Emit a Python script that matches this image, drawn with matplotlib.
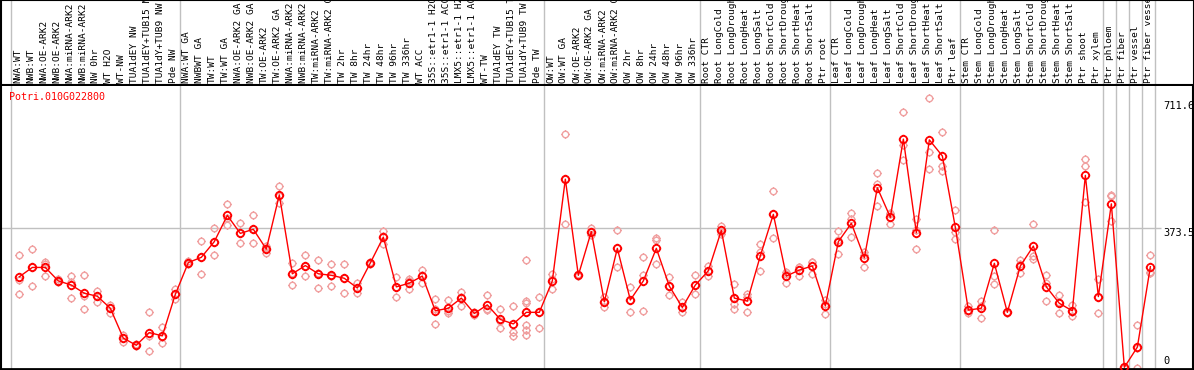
import matplotlib
matplotlib.use("Agg")
import matplotlib.pyplot as plt
from matplotlib.path import Path

gene = "Potri.010G022800"

labels = [
    "NWA:WT", "NWB:WT", "NWA:OE-ARK2", "NWB:OE-ARK2", "NWA:miRNA-ARK2", "NWB:miRNA-ARK2",
    "NW 0hr", "WT H2O", "WT-NW", "TUA1dEY NW", "TUA1dEY+TUB15 NW", "TUA1dY+TUB9 NW", "Pde NW",
    "NWA:WT GA", "NWBWT GA", "TW:WT", "TW:WT GA", "NWA:OE-ARK2 GA", "NWB:OE-ARK2 GA",
    "TW:OE-ARK2", "TW:OE-ARK2 GA", "NWA:miRNA-ARK2 GA", "NWB:miRNA-ARK2 GA", "TW:miRNA-ARK2",
    "TW:miRNA-ARK2 GA", "TW 2hr", "TW 8hr", "TW 24hr", "TW 48hr", "TW 96hr", "TW 336hr", "WT ACC",
    "35S::etr1-1 H2O", "35S::etr1-1 ACC", "LMX5::etr1-1 H2O", "LMX5::etr1-1 ACC", "WT-TW",
    "TUA1dEY TW", "TUA1dEY+TUB15 TW", "TUA1dY+TUB9 TW", "Pde TW",
    "OW:WT", "OW:WT GA", "OW:OE-ARK2", "OW:OE-ARK2 GA", "OW:miRNA-ARK2", "OW:miRNA-ARK2 GA",
    "OW 2hr", "OW 8hr", "OW 24hr", "OW 48hr", "OW 96hr", "OW 336hr",
    "Root CTR", "Root LongCold", "Root LongDrought", "Root LongHeat", "Root LongSalt",
    "Root ShortCold", "Root ShortDrought", "Root ShortHeat", "Root ShortSalt", "Ptr root",
    "Leaf CTR", "Leaf LongCold", "Leaf LongDrought", "Leaf LongHeat", "Leaf LongSalt",
    "Leaf ShortCold", "Leaf ShortDrought", "Leaf ShortHeat", "Leaf ShortSalt", "Ptr leaf",
    "Stem CTR", "Stem LongCold", "Stem LongDrought", "Stem LongHeat", "Stem LongSalt",
    "Stem ShortCold", "Stem ShortDrought", "Stem ShortHeat", "Stem ShortSalt", "Ptr shoot", "Ptr xylem",
    "Ptr phloem", "Ptr fiber", "Ptr vessel", "Ptr fiber vessel",
]

# first column of each sample group
group_starts = [0, 13, 41, 53, 63, 73, 84, 85, 86, 87, 88]

means = [
    243, 268, 268, 232, 221, 199, 191, 159, 79, 60, 94, 85, 196,
    281, 295, 337, 407, 359, 370, 317, 462, 251, 273, 251, 247, 239, 213, 280, 349,
    216, 226, 245, 152, 159, 186, 145, 168, 129, 117, 148, 148,
    232, 504, 247, 364, 176, 319, 181, 232, 319, 218, 161, 221,
    259, 367, 186, 178, 299, 410, 245, 261, 272, 165,
    337, 386, 294, 481, 402, 611, 361, 609, 566, 375,
    154, 159, 279, 148, 272, 325, 216, 172, 152, 514, 190,
    438, 1, 55, 270,
]

replicates = [
    [301, 234, 197], [317, 268, 218], [282, 277, 245], [228, 232, 236], [245, 230, 186],
    [248, 192, 157], [206, 192, 175], [168, 159, 145], [87, 80, 70], [62, 58, 60],
    [149, 85, 44], [108, 82, 65], [210, 196, 183],
    [284, 281, 278], [339, 295, 251], [373, 337, 301], [438, 401, 382], [386, 359, 333],
    [407, 370, 333], [324, 321, 306], [485, 460, 441], [281, 252, 220], [301, 272, 246],
    [288, 253, 212], [277, 246, 218], [277, 241, 199], [227, 213, 199], [283, 280, 277],
    [366, 351, 330], [243, 217, 188], [237, 231, 210], [261, 248, 226], [183, 157, 116],
    [181, 151, 145], [203, 190, 165], [148, 145, 142], [193, 157, 154], [157, 125, 105],
    [165, 96, 85], [288, 179, 172, 148, 114, 101, 87], [188, 150, 105],
    [250, 236, 210], [624, 505, 383], [250, 247, 244], [374, 364, 355], [188, 177, 163],
    [368, 321, 268], [215, 180, 148], [295, 248, 152], [346, 340, 277], [242, 218, 194],
    [176, 159, 148], [247, 220, 196],
    [273, 258, 246], [380, 364, 358], [224, 186, 170, 157], [197, 190, 148], [331, 308, 259],
    [472, 412, 346], [257, 251, 227], [270, 268, 245], [283, 283, 250], [181, 171, 143],
    [366, 341, 304], [413, 397, 349], [310, 302, 270], [520, 491, 433], [413, 410, 383],
    [683, 596, 554], [397, 369, 317], [720, 576, 531], [630, 539, 527], [422, 364, 344],
    [165, 152, 145], [179, 164, 134], [368, 245, 223], [150, 148, 146], [288, 276, 252],
    [383, 299, 290], [247, 226, 178], [194, 175, 147], [168, 150, 138], [558, 539, 442],
    [237, 188, 145],
    [460, 461, 393], [0, 1, 2], [113, 52, 0], [301, 257, 254],
]

y_ticks = [711.6, 373.5, 0]

# circle marker with four small stubs
stub_verts = [(0, 1), (0, 1.3), (0, -1), (0, -1.3), (1, 0), (1.3, 0), (-1, 0), (-1.3, 0)]
stub_codes = [Path.MOVETO, Path.LINETO] * 4
marker = Path.make_compound_path(Path.unit_circle(), Path(stub_verts, stub_codes))

RED = "#ff0000"
PINK = "#f0a0a0"
GRID = "#c0c0c0"

fig = plt.figure(figsize=(11.94, 3.7), dpi=100)
left, width = 1 / 1194, 1192 / 1194
ax_lab = fig.add_axes([left, 1 - 85 / 370, width, 85 / 370])
ax = fig.add_axes([left, 1 / 370, width, 283 / 370])

xlim = (-1.408, 90.28)
for a in (ax, ax_lab):
    a.set_xlim(*xlim)
    a.set_xticks([])
    a.set_yticks([])
    for s in a.spines.values():
        s.set_color("black")
    for b in group_starts:
        a.axvline(b - 0.64, color=GRID, lw=1, zorder=0)

# sample names, clipped at the top like the original
ax_lab.set_ylim(0, 1)
ax_lab.spines["bottom"].set_linewidth(1.5)
ax_lab.spines["left"].set_linewidth(1.5)
trans = ax_lab.get_xaxis_transform()
for i, lab in enumerate(labels):
    ax_lab.text(i - 0.12, 0.025, lab, rotation=90, ha="center", va="bottom",
                fontsize=6.8, family="DejaVu Sans Mono", transform=trans, clip_on=True)

ax.set_ylim(-3.5, 753)
ax.spines["top"].set_visible(False)
ax.spines["bottom"].set_linewidth(2)
ax.spines["left"].set_linewidth(1.5)
ax.spines["right"].set_linewidth(1.5)

x_end = 88.0
ax.hlines(y_ticks[1], xlim[0], x_end - 0.2, color=GRID, lw=1, zorder=0)

for i, reps in enumerate(replicates):
    ax.plot([i] * len(reps), reps, linestyle="none", marker=marker, markersize=6.0,
            markerfacecolor="none", markeredgecolor=PINK, markeredgewidth=1, zorder=2)

x = list(range(len(means)))
ax.plot(x, means, color=RED, lw=1, zorder=3)
ax.plot(x, means, linestyle="none", marker=marker, markersize=6.8,
        markerfacecolor="none", markeredgecolor=RED, markeredgewidth=1.3, zorder=4)

ax.text(x_end, y_ticks[0], "711.6", ha="left", va="top", fontsize=7.5,
        family="DejaVu Sans Mono", clip_on=True)
ax.text(x_end, y_ticks[1], "373.5", ha="left", va="top", fontsize=7.5,
        family="DejaVu Sans Mono", clip_on=True)
ax.text(x_end, 4, "0", ha="left", va="bottom", fontsize=7.5,
        family="DejaVu Sans Mono", clip_on=True)

ax.text(-0.8, 738, gene, color=RED, ha="left", va="top", fontsize=7.2,
        family="DejaVu Sans Mono")

fig.savefig("out.png", dpi=100)
